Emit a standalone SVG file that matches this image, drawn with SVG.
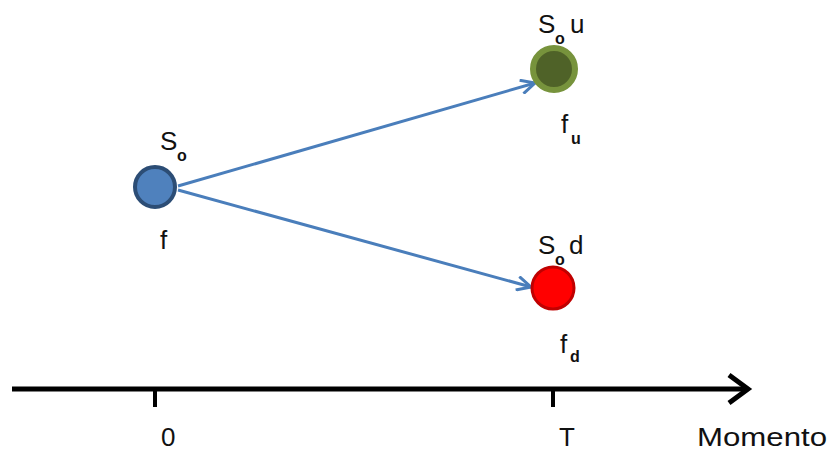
<svg xmlns="http://www.w3.org/2000/svg" width="831" height="454" viewBox="0 0 831 454">
<defs>
<style>
text{font-family:"Liberation Sans",Arial,sans-serif;fill:#111;font-size:26px}
.sub{font-size:16px;font-weight:bold}
.conn{stroke:#4A7EBB;stroke-width:3;fill:none}
</style>
<marker id="ah" viewBox="0 0 16 16" refX="15" refY="8" markerWidth="16" markerHeight="16" markerUnits="userSpaceOnUse" orient="auto">
<path d="M1,1 L15,8 L1,15" fill="none" stroke="#4A7EBB" stroke-width="3"/>
</marker>
</defs>
<rect width="831" height="454" fill="#fff"/>
<g id="connectors">
<line class="conn" x1="178" y1="186" x2="535" y2="83" marker-end="url(#ah)"/>
<line class="conn" x1="178" y1="190" x2="531" y2="287" marker-end="url(#ah)"/>
</g>
<g id="axis">
<line x1="12" y1="389" x2="748" y2="389" stroke="#000" stroke-width="5"/>
<path d="M729,375 L748,389 L729,403" fill="none" stroke="#000" stroke-width="5"/>
<line x1="155" y1="389" x2="155" y2="407" stroke="#000" stroke-width="4"/>
<line x1="553" y1="389" x2="553" y2="407" stroke="#000" stroke-width="4"/>
<text x="161" y="446">0</text>
<text x="559" y="446">T</text>
<text x="697" y="446" textLength="130" lengthAdjust="spacingAndGlyphs">Momento</text>
</g>
<g id="node-s0">
<circle cx="155" cy="187" r="20" fill="#4F81BD" stroke="#2C4D75" stroke-width="4"/>
<text x="160" y="150">S</text><text class="sub" x="177" y="161">o</text>
<text x="160" y="249">f</text>
</g>
<g id="node-up">
<circle cx="554" cy="69" r="21" fill="#4F6228" stroke="#77933C" stroke-width="6"/>
<text x="538" y="33">S</text><text class="sub" x="555" y="44">o</text><text x="570" y="33">u</text>
<text x="561" y="133">f</text><text class="sub" x="571" y="144">u</text>
</g>
<g id="node-down">
<circle cx="553" cy="288" r="21" fill="#FF0000" stroke="#C00000" stroke-width="3"/>
<text x="538" y="254">S</text><text class="sub" x="555" y="265">o</text><text x="569" y="254">d</text>
<text x="560" y="353">f</text><text class="sub" x="570" y="362">d</text>
</g>
</svg>
